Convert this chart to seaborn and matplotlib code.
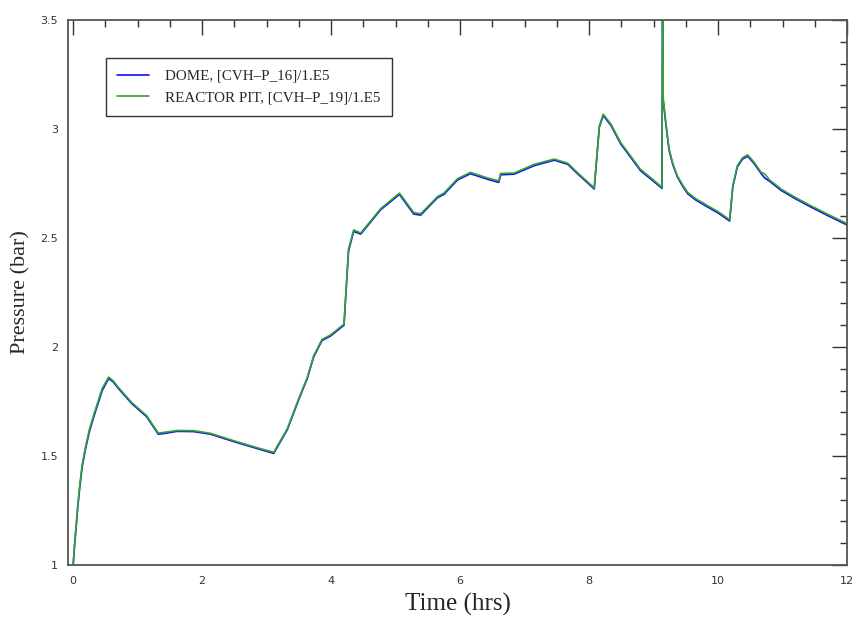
import numpy as np
import pandas as pd
import matplotlib
matplotlib.use("Agg")
import matplotlib.pyplot as plt
import seaborn as sns
from matplotlib.ticker import MultipleLocator

time_hrs = [0.0, 0.02, 0.04, 0.07, 0.1, 0.14, 0.19, 0.25, 0.32, 0.45, 0.55, 0.62, 0.70,
            0.91, 1.14, 1.32, 1.45, 1.61, 1.87, 2.13, 2.49, 2.90, 3.11, 3.32, 3.50, 3.63,
            3.73, 3.86, 3.99, 4.20, 4.27, 4.35, 4.46, 4.77, 5.06, 5.28, 5.39, 5.65, 5.75,
            5.96, 6.16, 6.42, 6.60, 6.63, 6.84, 7.15, 7.46, 7.67, 7.82, 8.08, 8.16, 8.22,
            8.34, 8.49, 8.65, 8.80, 9.00, 9.13, 9.14, 9.15, 9.19, 9.24, 9.30, 9.37, 9.45,
            9.53, 9.65, 9.84, 10.0, 10.18, 10.23, 10.30, 10.38, 10.46, 10.55, 10.67, 10.72,
            10.80, 10.98, 11.2, 11.44, 11.7, 12.0]

dome = [1.00, 1.08, 1.15, 1.26, 1.35, 1.45, 1.53, 1.61, 1.68, 1.80, 1.855, 1.84, 1.81,
        1.74, 1.68, 1.60, 1.605, 1.613, 1.612, 1.600, 1.566, 1.530, 1.512, 1.62, 1.76,
        1.855, 1.955, 2.030, 2.05, 2.10, 2.44, 2.530, 2.518, 2.63, 2.700, 2.61, 2.605,
        2.685, 2.70, 2.766, 2.795, 2.770, 2.755, 2.790, 2.793, 2.832, 2.857, 2.838, 2.795,
        2.725, 3.01, 3.062, 3.016, 2.932, 2.868, 2.808, 2.760, 2.728, 3.60, 3.13, 3.026,
        2.904, 2.835, 2.78, 2.738, 2.703, 2.675, 2.642, 2.615, 2.578, 2.736, 2.826, 2.862,
        2.875, 2.845, 2.795, 2.776, 2.760, 2.718, 2.680, 2.642, 2.603, 2.560]

reactor_pit = [1.00, 1.09, 1.16, 1.27, 1.36, 1.46, 1.54, 1.62, 1.69, 1.81, 1.862, 1.845,
               1.815, 1.745, 1.685, 1.605, 1.61, 1.617, 1.616, 1.604, 1.570, 1.534, 1.517,
               1.625, 1.765, 1.86, 1.96, 2.035, 2.055, 2.105, 2.45, 2.537, 2.523, 2.635,
               2.706, 2.617, 2.611, 2.69, 2.706, 2.772, 2.801, 2.776, 2.762, 2.796, 2.798,
               2.838, 2.862, 2.843, 2.80, 2.730, 3.015, 3.068, 3.022, 2.938, 2.874, 2.814,
               2.766, 2.733, 3.60, 3.14, 3.032, 2.91, 2.841, 2.785, 2.744, 2.709, 2.681,
               2.648, 2.621, 2.584, 2.742, 2.832, 2.868, 2.881, 2.851, 2.801, 2.795, 2.766,
               2.724, 2.686, 2.648, 2.609, 2.566]

df = pd.DataFrame({"t": time_hrs * 2,
                   "p": dome + reactor_pit,
                   "series": ["DOME, [CVH\u2013P_16]/1.E5"] * len(dome)
                   + ["REACTOR PIT, [CVH\u2013P_19]/1.E5"] * len(reactor_pit)})

sns.set_style("white")
fig = plt.figure(figsize=(8.55, 6.19), dpi=100)
ax = fig.add_axes([68 / 855, 1 - 565 / 619, 779 / 855, 545 / 619])

sns.lineplot(data=df, x="t", y="p", hue="series",
             palette=["#1010f0", "#35a035"], linewidth=1.2, ax=ax,
             estimator=None, sort=False)

ax.set_xlim(-0.08, 12.0)
ax.set_ylim(1.0, 3.5)
ax.xaxis.set_minor_locator(MultipleLocator(0.5))
ax.yaxis.set_minor_locator(MultipleLocator(0.1))
ax.set_xticks([0, 2, 4, 6, 8, 10, 12])
ax.set_xticklabels(["0", "2", "4", "6", "8", "10", "12"])
ax.set_yticks([1, 1.5, 2, 2.5, 3, 3.5])
ax.set_yticklabels(["1", "1.5", "2", "2.5", "3", "3.5"])

ax.tick_params(which="both", direction="in", top=True, right=True,
               color="#333333", width=1.0)
ax.tick_params(which="major", length=11)
ax.tick_params(which="minor", length=5)
ax.tick_params(axis="x", which="major", pad=8)
ax.tick_params(axis="y", which="major", pad=7)
for lab in ax.get_xticklabels() + ax.get_yticklabels():
    lab.set_fontfamily("DejaVu Sans")
    lab.set_fontsize(8)
    lab.set_color("#333333")

for s in ax.spines.values():
    s.set_color("#555555")
    s.set_linewidth(1.3)

ax.set_xlabel("Time (hrs)", fontfamily="Liberation Serif", fontsize=18, labelpad=5)
ax.set_ylabel("Pressure (bar)", fontfamily="Liberation Serif", fontsize=16, labelpad=7)

leg = ax.legend(loc="upper left", bbox_to_anchor=(0.049, 0.93), frameon=True,
                fancybox=False, edgecolor="#333333", framealpha=1,
                prop={"family": "Liberation Serif", "size": 10.8},
                handlelength=2.1, handletextpad=1.1, borderpad=0.75, labelspacing=0.55,
                borderaxespad=0)
leg.get_frame().set_linewidth(1.0)
for line in leg.get_lines():
    line.set_linewidth(1.2)

fig.savefig("out.png", dpi=100)
